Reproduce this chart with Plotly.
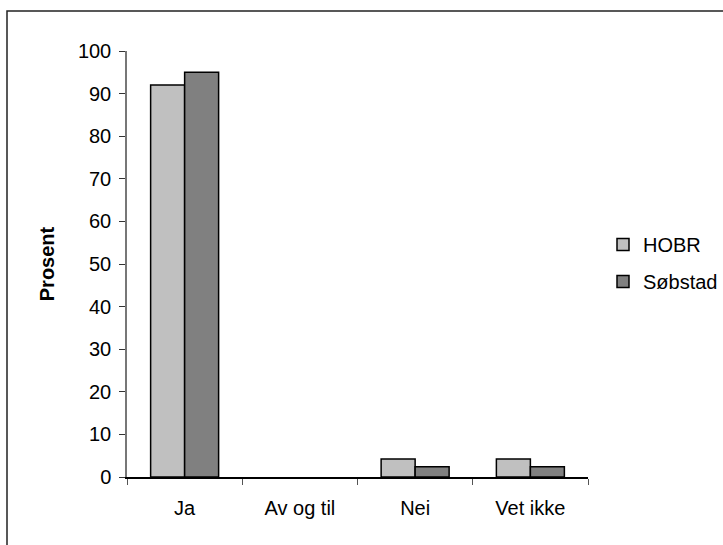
import plotly.graph_objects as go

categories = ["Ja", "Av og til", "Nei", "Vet ikke"]
hobr = [92.0, 0.0, 4.2, 4.2]
sobstad = [95.0, 0.0, 2.4, 2.4]
series_names = ["HOBR", "Søbstad"]
y_ticks = list(range(0, 101, 10))

W, H = 723, 545
L, R, T, B = 127, 135, 51, 68
pw, ph = W - L - R, H - T - B


def px_x(x):
    return (x - L) / pw


def px_y(y):
    return (H - B - y) / ph


def outline(values):
    # no outline on empty bars
    return [1.5 if v > 0 else 0 for v in values]


fig = go.Figure()
fig.add_trace(go.Bar(x=categories, y=hobr, name=series_names[0], legendgroup="a",
                     marker=dict(color="#C0C0C0",
                                 line=dict(color="#000000", width=outline(hobr)))))
fig.add_trace(go.Bar(x=categories, y=sobstad, name=series_names[1], legendgroup="b",
                     marker=dict(color="#808080",
                                 line=dict(color="#000000", width=outline(sobstad)))))

# outer frame (top and left edges)
fig.add_shape(type="path", xref="paper", yref="paper",
              path=f"M {px_x(7)} {px_y(545)} L {px_x(7)} {px_y(11)} L {px_x(723)} {px_y(11)}",
              line=dict(color="#222222", width=1.5))

fig.update_layout(
    width=W, height=H,
    margin=dict(l=L, r=R, t=T, b=B, autoexpand=False),
    paper_bgcolor="white", plot_bgcolor="white",
    barmode="group", bargap=0.41, bargroupgap=0,
    font=dict(family="Liberation Sans, Arial, sans-serif", size=20, color="#000000"),
    showlegend=True,
    legend=dict(x=px_x(603), y=px_y(263), xanchor="left", yanchor="middle",
                traceorder="grouped", tracegroupgap=8,
                font=dict(size=20), bgcolor="rgba(0,0,0,0)"),
)
fig.update_xaxes(showline=True, linecolor="#000000", linewidth=1.5,
                 ticks="outside", tickson="boundaries", ticklen=6, tickcolor="#555555",
                 showgrid=False, tickfont=dict(size=20), ticklabelstandoff=12)
fig.update_yaxes(range=[0, 100], tickvals=y_ticks, showline=True, linecolor="#777777",
                 linewidth=1.5, ticks="outside", ticklen=6, tickcolor="#333333",
                 showgrid=False, zeroline=False, tickfont=dict(size=20), ticklabelstandoff=4,
                 title=dict(text="<b>Prosent</b>", font=dict(size=20), standoff=18))

fig.write_html("out.html")
